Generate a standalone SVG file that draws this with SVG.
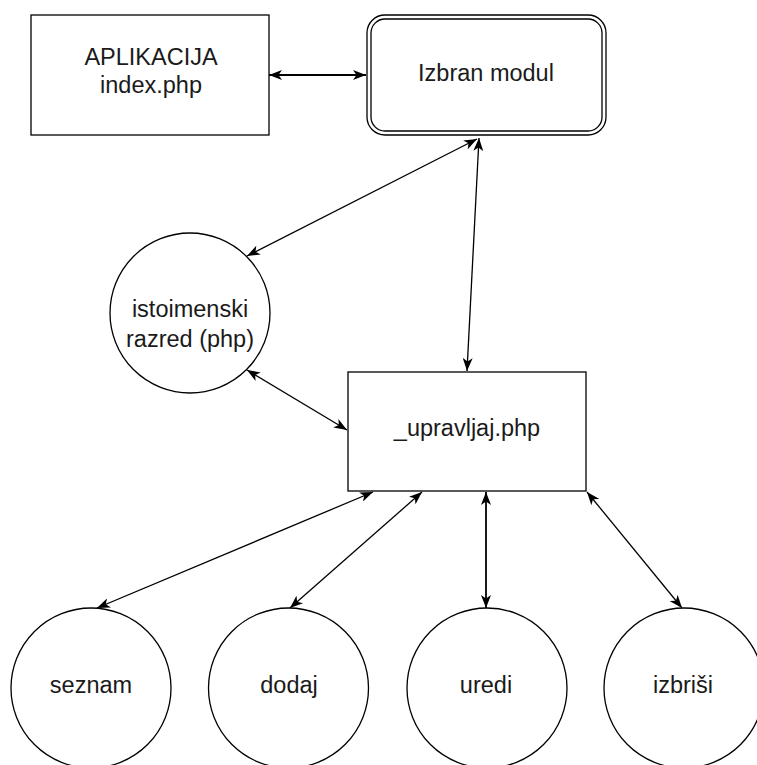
<svg xmlns="http://www.w3.org/2000/svg" width="757" height="765" viewBox="0 0 757 765">
  <style>
    .shape { fill: #ffffff; stroke: #000000; stroke-width: 1.3; }
    .lbl { font-family: "Liberation Sans", Arial, Helvetica, sans-serif; font-size: 23.5px; fill: #1a1a1a; text-anchor: middle; }
    .edge { fill: none; stroke: #000000; stroke-width: 1.3; marker-start: url(#arr); marker-end: url(#arr); }
    .thick { stroke-width: 1.8; }
  </style>
  <defs>
    <marker id="arr" markerUnits="userSpaceOnUse" viewBox="0 0 13 10" refX="13" refY="5" markerWidth="13" markerHeight="10" orient="auto-start-reverse">
      <path d="M0,0 L13,5 L0,10 L3.5,5 z" fill="#000000"/>
    </marker>
  </defs>
  <rect width="757" height="765" fill="#ffffff"/>

  <g id="connectors">
    <line class="edge thick" x1="269" y1="75" x2="366" y2="75"/>
    <line class="edge" x1="477" y1="139" x2="247" y2="256"/>
    <line class="edge" x1="479" y1="138" x2="467" y2="371"/>
    <line class="edge" x1="247" y1="370" x2="347" y2="430"/>
    <line class="edge" x1="373" y1="492" x2="97" y2="608"/>
    <line class="edge" x1="422" y1="492" x2="290" y2="608"/>
    <line class="edge thick" x1="486" y1="492" x2="486" y2="608"/>
    <line class="edge" x1="587" y1="492" x2="682" y2="608"/>
  </g>

  <g id="aplikacija">
    <rect class="shape" x="31" y="15" width="238" height="120"/>
    <text class="lbl" x="151" y="65">APLIKACIJA</text>
    <text class="lbl" x="151" y="93">index.php</text>
  </g>

  <g id="izbran-modul">
    <rect class="shape" x="367" y="15" width="239" height="120" rx="18" ry="18"/>
    <rect class="shape" x="371" y="19" width="231" height="112" rx="14" ry="14"/>
    <text class="lbl" x="486" y="81">Izbran modul</text>
  </g>

  <g id="istoimenski">
    <circle class="shape" cx="190" cy="313" r="80"/>
    <text class="lbl" x="190" y="317">istoimenski</text>
    <text class="lbl" x="190" y="347">razred (php)</text>
  </g>

  <g id="upravljaj">
    <rect class="shape" x="348" y="372" width="238" height="119"/>
    <text class="lbl" x="467" y="436">_upravljaj.php</text>
  </g>

  <g id="seznam">
    <circle class="shape" cx="91" cy="688" r="80"/>
    <text class="lbl" x="91" y="693">seznam</text>
  </g>

  <g id="dodaj">
    <circle class="shape" cx="288.5" cy="688" r="80"/>
    <text class="lbl" x="289" y="693">dodaj</text>
  </g>

  <g id="uredi">
    <circle class="shape" cx="487" cy="688" r="80"/>
    <text class="lbl" x="486" y="693">uredi</text>
  </g>

  <g id="izbrisi">
    <circle class="shape" cx="684" cy="688" r="80"/>
    <text class="lbl" x="683" y="693">izbriši</text>
  </g>
</svg>
